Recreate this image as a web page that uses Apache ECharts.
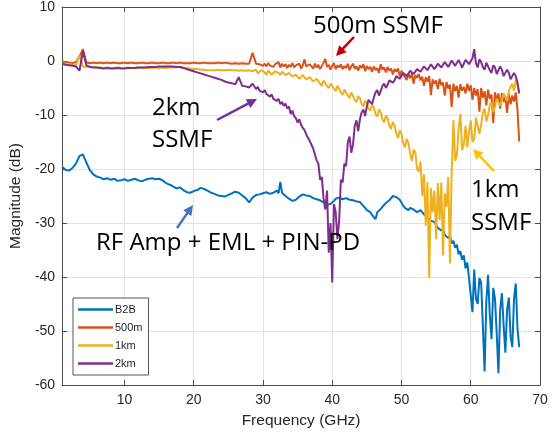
<!DOCTYPE html>
<html><head><meta charset="utf-8">
<script src="https://cdn.jsdelivr.net/npm/echarts@6/dist/echarts.min.js"></script>
<style>html,body{margin:0;padding:0;background:#fff}#c{width:554px;height:436px}</style>
</head><body><div id="c"></div>
<script>
// Frequency grid (GHz): 0.5 GHz steps up to 28.5, then 0.25 GHz steps
const freq = [1,1.5,2,2.5,3,3.5,4,4.5,5,5.5,6,6.5,7,7.5,8,8.5,9,9.5,10,10.5,11,11.5,12,12.5,13,13.5,14,14.5,15,15.5,16,16.5,17,17.5,18,18.5,19,19.5,20,20.5,21,21.5,22,22.5,23,23.5,24,24.5,25,25.5,26,26.5,27,27.5,28,28.5,
29,29.25,29.5,29.75,30,30.25,30.5,30.75,31,31.25,31.5,31.75,32,32.25,32.5,32.75,33,33.25,33.5,33.75,34,34.25,34.5,34.75,35,35.25,35.5,35.75,36,36.25,36.5,36.75,37,37.25,37.5,37.75,38,38.25,38.5,38.75,39,39.25,39.5,39.75,40,40.25,40.5,40.75,41,41.25,41.5,41.75,42,42.25,42.5,42.75,43,43.25,43.5,43.75,44,44.25,44.5,44.75,45,45.25,45.5,45.75,46,46.25,46.5,46.75,47,47.25,47.5,47.75,48,48.25,48.5,48.75,49,49.25,49.5,49.75,50,50.25,50.5,50.75,51,51.25,51.5,51.75,52,52.25,52.5,52.75,53,53.25,53.5,53.75,54,54.25,54.5,54.75,55,55.25,55.5,55.75,56,56.25,56.5,56.75,57,57.25,57.5,57.75,58,58.25,58.5,58.75,59,59.25,59.5,59.75,60,60.25,60.5,60.75,61,61.25,61.5,61.75,62,62.25,62.5,62.75,63,63.25,63.5,63.75,64,64.25,64.5,64.75,65,65.25,65.5,65.75,66,66.25,66.5,66.75,67];

const b2b = [
-19.6,-20.2,-20.3,-19.8,-19.0,-17.6,-17.3,-18.8,-20.2,-21.0,
-21.4,-21.6,-21.9,-21.7,-22.0,-21.8,-22.2,-22.1,-21.9,-22.2,
-22.0,-21.8,-22.1,-22.3,-22.0,-21.8,-21.7,-21.9,-21.8,-22.1,
-22.6,-22.9,-23.2,-23.6,-23.4,-23.9,-24.3,-24.4,-24.1,-23.9,
-23.5,-23.7,-24.0,-24.4,-24.6,-24.9,-25.0,-25.1,-24.8,-24.5,
-24.2,-24.4,-24.9,-25.4,-26.2,-25.3,
-24.8,-24.6,-24.7,-24.4,-24.5,-24.6,-24.3,-24.5,
-24.6,-24.3,-24.4,-24.2,-24.0,-24.5,-22.4,-24.4,
-24.6,-25.0,-25.2,-25.5,-25.8,-25.9,-26.0,-25.7,
-25.5,-25.1,-24.9,-24.7,-24.7,-24.9,-25.1,-25.0,
-25.3,-25.4,-25.5,-25.6,-25.7,-25.8,-26.0,-26.2,
-26.4,-26.6,-26.8,-26.5,-26.3,-25.9,-25.5,-25.4,
-25.3,-25.5,-25.6,-25.5,-25.4,-25.6,-25.7,-25.7,
-25.8,-25.9,-26.0,-26.1,-26.1,-26.5,-26.8,-27.2,
-27.6,-27.8,-28.0,-28.5,-28.9,-29.3,-28.0,-27.7,
-27.4,-27.0,-26.7,-26.3,-26.0,-25.8,-25.5,-25.0,
-24.9,-25.2,-25.3,-25.7,-26.0,-26.8,-27.2,-27.5,
-27.6,-27.2,-27.1,-27.5,-27.7,-28.0,-28.2,-27.6,
-27.8,-28.4,-28.3,-28.9,-28.8,-29.6,-29.3,-29.8,
-30.0,-30.9,-30.6,-31.4,-31.0,-32.2,-31.9,-32.8,
-32.3,-33.8,-33.3,-34.6,-34.0,-35.8,-35.2,-36.8,
-36.0,-38.4,-37.3,-40.2,-40.5,-46.5,-38.6,-44.0,
-45.0,-40.2,-41.0,-49.0,-57.5,-44.5,-39.6,-47.0,
-51.5,-42.0,-44.0,-50.5,-57.8,-46.0,-43.0,-49.0,
-54.0,-46.0,-43.8,-51.0,-53.0,-44.0,-41.2,-49.5,
-53.0];

const m500 = [
-0.1,-0.2,-0.3,-0.4,-0.2,0.8,2.2,-0.3,-0.4,-0.3,
-0.4,-0.3,-0.4,-0.3,-0.4,-0.3,-0.4,-0.4,-0.3,-0.4,
-0.3,-0.4,-0.4,-0.3,-0.4,-0.4,-0.3,-0.4,-0.4,-0.3,
-0.4,-0.4,-0.3,-0.4,-0.3,-0.4,-0.4,-0.4,-0.3,-0.4,
-0.4,-0.3,-0.4,-0.4,-0.4,-0.3,-0.4,-0.3,-0.4,-0.5,
-0.4,-0.5,-0.4,-0.5,-0.5,1.5,
-0.5,-0.8,-0.6,-0.3,-0.9,-0.5,-1.0,-0.4,
-0.8,-0.5,-1.1,-0.6,-0.9,-0.2,-1.2,-0.5,
-1.0,-0.6,-1.3,-0.7,-1.1,-0.4,-1.2,-0.8,
-1.1,-0.5,-1.4,-0.8,0.3,-1.0,-1.3,-0.6,
-0.9,-1.4,-0.5,-1.2,-0.7,-1.5,-0.9,-0.3,
0.4,-1.1,-0.7,-1.6,-0.9,-0.4,-1.5,-0.8,
-1.2,-0.6,-1.5,-0.9,-1.3,-0.5,-1.7,-1.0,
-0.5,-1.4,-1.0,-1.8,-0.8,-1.3,-0.6,-1.9,
-0.9,-1.5,-1.1,-2.0,-1.0,-1.7,-1.3,-2.2,
-0.6,-1.6,-1.2,-2.1,-1.1,-1.8,-1.4,-2.5,
-1.5,-2.0,-1.4,-2.8,-1.8,-2.5,-2.2,-3.5,
-2.4,-3.2,-2.3,-4.2,-2.6,-3.1,-2.4,-3.6,
-2.9,-4.6,-3.0,-3.8,-2.8,-6.3,-3.4,-4.2,
-3.6,-5.2,-3.3,-4.5,-4.0,-6.4,-3.9,-5.1,
-4.4,-8.5,-4.2,-5.6,-4.6,-6.8,-4.3,-5.5,
-4.8,-6.0,-4.2,-5.5,-4.5,-7.2,-5.0,-6.4,
-5.2,-9.4,-5.0,-6.8,-5.6,-8.2,-5.3,-7.0,
-6.2,-11.5,-5.8,-7.4,-6.0,-8.8,-5.9,-7.6,
-6.5,-9.6,-6.1,-8.0,-6.4,-7.5,-5.8,-9.0,
-14.9];

const km1 = [
-0.5,-0.6,-0.6,-0.7,-0.8,1.0,-1.0,-1.1,-1.0,-1.1,
-1.2,-1.2,-1.3,-1.2,-1.3,-1.3,-1.2,-1.3,-1.3,-1.2,
-1.3,-1.3,-1.2,-1.3,-1.2,-1.3,-1.3,-1.2,-1.3,-1.2,
-1.3,-1.2,-1.2,-1.1,-1.1,-1.2,-1.3,-1.4,-1.5,-1.5,
-1.6,-1.6,-1.7,-1.7,-1.7,-1.6,-1.7,-1.7,-1.6,-1.7,
-1.7,-1.8,-1.7,-1.8,-1.7,-1.9,
-1.6,-2.3,-2.4,-1.7,-1.5,-2.1,-2.6,-1.8,
-2.0,-2.5,-2.4,-1.9,-1.9,-2.2,-2.6,-2.0,
-2.3,-2.6,-2.8,-2.2,-2.5,-2.9,-3.1,-2.5,
-2.7,-3.3,-3.2,-2.6,-2.6,-3.4,-3.7,-3.0,
-3.1,-3.8,-4.0,-3.3,-3.5,-4.2,-4.6,-3.6,
-3.6,-4.6,-5.0,-4.2,-4.4,-5.1,-5.6,-4.6,
-4.9,-5.8,-6.3,-5.3,-5.5,-6.4,-6.9,-5.8,
-6.0,-7.2,-7.6,-6.5,-6.9,-7.9,-8.4,-7.3,
-7.9,-8.8,-9.2,-8.1,-8.6,-9.8,-10.3,-9.0,
-9.5,-10.8,-11.4,-10.1,-10.6,-12.0,-12.6,-11.3,
-12.0,-13.4,-14.3,-12.8,-13.5,-15.2,-16.0,-14.4,
-15.2,-17.2,-18.5,-16.4,-17.0,-20.0,-20.5,-18.6,
-25.0,-21.0,-30.5,-22.4,-40.2,-23.5,-28.0,-24.0,
-33.0,-22.6,-29.5,-22.5,-36.0,-24.5,-27.0,-21.5,
-37.5,-20.5,-11.0,-18.5,-17.5,-12.5,-9.8,-16.5,
-15.5,-12.0,-16.0,-13.0,-11.0,-15.0,-14.5,-10.5,
-10.6,-13.5,-11.8,-9.5,-8.8,-11.2,-10.0,-8.2,
-7.6,-9.5,-8.4,-7.0,-6.8,-8.3,-7.2,-6.0,
-6.2,-7.4,-5.6,-4.8,-4.2,-5.5,-3.5,-4.6,
-6.0];

const km2 = [
-0.5,-0.7,-0.8,-0.9,-1.0,-1.8,1.8,-0.8,-1.1,-1.2,
-1.2,-1.3,-1.4,-1.3,-1.4,-1.4,-1.3,-1.4,-1.4,-1.3,
-1.3,-1.3,-1.2,-1.2,-1.2,-1.1,-1.1,-1.1,-1.0,-1.0,
-1.0,-1.0,-1.0,-1.1,-1.1,-1.3,-1.5,-1.7,-1.9,-2.1,
-2.3,-2.5,-2.7,-2.9,-3.1,-3.3,-3.5,-3.8,-4.0,-4.1,
-4.3,-3.0,-4.6,-4.7,-4.9,-4.2,
-5.2,-4.8,-5.5,-5.2,-5.8,-5.4,-6.1,-5.8,
-6.6,-6.2,-7.0,-6.7,-7.4,-7.0,-8.0,-7.6,
-8.3,-7.9,-8.8,-8.4,-9.8,-9.2,-10.2,-10.6,
-11.4,-10.8,-11.8,-12.4,-12.8,-13.6,-13.5,-14.8,
-14.6,-16.2,-16.5,-18.4,-19.0,-22.0,-21.5,-25.5,
-27.5,-24.0,-35.5,-30.0,-41.0,-26.5,-28.0,-33.0,
-29.5,-22.0,-22.5,-19.0,-19.5,-15.0,-14.0,-17.0,
-15.5,-12.0,-11.0,-13.0,-10.8,-9.5,-9.0,-10.2,
-8.4,-7.2,-7.0,-8.0,-6.8,-5.8,-5.4,-6.4,
-5.6,-4.6,-4.2,-5.0,-4.4,-3.6,-3.3,-4.0,
-3.6,-2.8,-2.6,-3.3,-3.0,-2.2,-2.1,-2.8,
-2.6,-1.8,-1.7,-2.4,-2.3,-1.5,-1.4,-2.0,
-1.9,-1.0,-0.9,-1.7,-1.6,-0.6,-0.7,-1.5,
-1.5,-0.5,-0.4,-1.2,-1.3,-0.2,-0.2,-1.1,
-1.0,0.1,0.1,-0.9,-0.9,0.2,-0.1,-1.2,
-1.3,0.2,0.3,-0.6,-0.8,0.5,2.2,-0.4,
-1.2,0.3,-0.2,-1.1,-1.6,-0.3,-0.6,-1.7,
-2.2,-0.8,-1.2,-2.4,-2.5,-1.0,-1.6,-2.8,
-3.0,-1.6,-2.2,-3.4,-3.4,-2.2,-2.8,-4.0,
-6.0];

const seriesNames = ['B2B','500m','1km','2km'];
const seriesValues = [b2b, m500, km1, km2];
const seriesColors = ['#0072BD','#D95319','#EDB120','#7E2F8E'];
const xTicks = [10,20,30,40,50,60,70];

// annotations (pixel positions)
const texts = [
  {text:'500m SSMF', x:313, y:26},
  {text:'2km\nSSMF', x:152, y:92, lh:32},
  {text:'1km\nSSMF', x:471, y:174, lh:33},
  {text:'RF Amp + EML + PIN-PD', x:96, y:243}
];
const arrows = [
  {from:[354,37], to:[336,56], color:'#C00000'},
  {from:[217,120], to:[257,99], color:'#7030A0'},
  {from:[494,171], to:[473,149], color:'#FFC000'},
  {from:[177,228], to:[193,205], color:'#4472C4'}
];

const axisColor = '#262626';
const lineColor = '#4a4a4a';
const tickFont = 'Liberation Sans, Arial, sans-serif';

const graphics = [];
texts.forEach(t => {
  if (t.lh) {
    graphics.push({type:'text', left:t.x, top:t.y, z:100, style:{text:t.text, font:'24px "Open Sans"', fill:'#000', lineHeight:t.lh}});
  } else {
    graphics.push({type:'text', x:t.x, y:t.y, z:100, style:{text:t.text, font:'24px "Open Sans"', fill:'#000', verticalAlign:'middle', align:'left'}});
  }
});
arrows.forEach(a => {
  const dx = a.to[0]-a.from[0], dy = a.to[1]-a.from[1];
  const len = Math.sqrt(dx*dx+dy*dy);
  const ux = dx/len, uy = dy/len, px = -uy, py = ux;
  const L = 10, W = 5;
  const bx = a.to[0]-ux*L, by = a.to[1]-uy*L;
  graphics.push({type:'line', z:100, shape:{x1:a.from[0], y1:a.from[1], x2:bx+ux*1, y2:by+uy*1}, style:{stroke:a.color, lineWidth:2.5}});
  graphics.push({type:'polygon', z:100, shape:{points:[[a.to[0],a.to[1]],[bx+px*W,by+py*W],[bx-px*W,by-py*W]]}, style:{fill:a.color}});
});

const chart = echarts.init(document.getElementById('c'), null, {renderer:'canvas'});
chart.setOption({
  animation:false,
  backgroundColor:'#fff',
  grid:{left:62, right:14, top:7, bottom:51, containLabel:false},
  legend:{
    data:seriesNames, orient:'vertical', left:73, top:298,
    icon:'rect', itemWidth:35, itemHeight:2.5, itemGap:5,
    padding:[5,6,5,5], borderColor:'#555', borderWidth:1, backgroundColor:'#fff',
    textStyle:{fontSize:11, fontFamily:tickFont, color:axisColor, lineHeight:13, padding:[0,0,0,-3]},
    selectedMode:false, z:50
  },
  xAxis:[{
    type:'value', min:1, max:70, position:'bottom',
    axisLine:{show:true, onZero:false, lineStyle:{color:lineColor, width:1}},
    axisTick:{show:true, inside:true, length:5, customValues:xTicks, lineStyle:{color:lineColor}},
    axisLabel:{customValues:xTicks, fontSize:14, fontFamily:tickFont, color:axisColor, margin:8},
    splitLine:{show:true, lineStyle:{color:'#e3e3e3', width:1}},
    name:'Frequency (GHz)', nameLocation:'middle', nameGap:28,
    nameTextStyle:{fontSize:15.5, fontFamily:tickFont, color:axisColor}
  },{
    type:'value', min:1, max:70, position:'top',
    axisLine:{show:true, onZero:false, lineStyle:{color:lineColor, width:1}},
    axisTick:{show:true, inside:true, length:5, customValues:xTicks, lineStyle:{color:lineColor}},
    axisLabel:{show:false}, splitLine:{show:false}
  }],
  yAxis:[{
    type:'value', min:-60, max:10, interval:10, position:'left',
    axisLine:{show:true, onZero:false, lineStyle:{color:lineColor, width:1}},
    axisTick:{show:true, inside:true, length:5, lineStyle:{color:lineColor}},
    axisLabel:{fontSize:14, fontFamily:tickFont, color:axisColor, margin:7},
    splitLine:{show:true, lineStyle:{color:'#e3e3e3', width:1}},
    name:'Magnitude (dB)', nameLocation:'middle', nameGap:32,
    nameTextStyle:{fontSize:15.5, fontFamily:tickFont, color:axisColor}
  },{
    type:'value', min:-60, max:10, interval:10, position:'right',
    axisLine:{show:true, onZero:false, lineStyle:{color:lineColor, width:1}},
    axisTick:{show:true, inside:true, length:5, lineStyle:{color:lineColor}},
    axisLabel:{show:false}, splitLine:{show:false}
  }],
  series: seriesNames.map((n,k) => ({
    name:n, type:'line', xAxisIndex:0, yAxisIndex:0,
    data: freq.map((f,i) => [f, seriesValues[k][i]]),
    showSymbol:false, symbol:'none',
    lineStyle:{color:seriesColors[k], width:2},
    itemStyle:{color:seriesColors[k]},
    z:2+k
  })),
  graphic: graphics
});
</script>
</body></html>
